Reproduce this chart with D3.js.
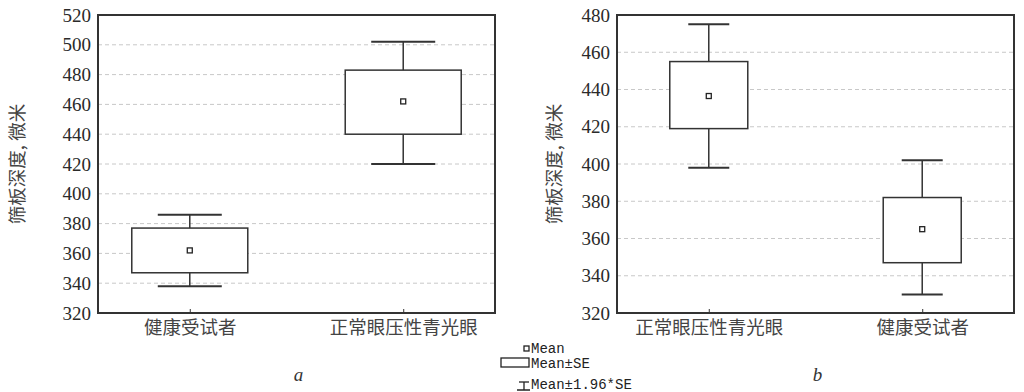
<!DOCTYPE html>
<html>
<head>
<meta charset="utf-8">
<script src="https://cdn.jsdelivr.net/npm/d3@7"></script>
<style>
  body { margin: 0; background: #fff; }
  svg { display: block; }
</style>
</head>
<body>
<script>
// panel a data
var catsA   = ["健康受试者", "正常眼压性青光眼"];
var meanA   = [362, 462];
var seLoA   = [347, 440];
var seHiA   = [377, 483];
var ciLoA   = [338, 420];
var ciHiA   = [386, 502];
var ticksA  = [320, 340, 360, 380, 400, 420, 440, 460, 480, 500, 520];

// panel b data
var catsB   = ["正常眼压性青光眼", "健康受试者"];
var meanB   = [436.5, 365];
var seLoB   = [419, 347];
var seHiB   = [455, 382];
var ciLoB   = [398, 330];
var ciHiB   = [475, 402];
var ticksB  = [320, 340, 360, 380, 400, 420, 440, 460, 480];

var yTitle = "筛板深度, 微米";
var legendLabels = ["Mean", "Mean\u00b1SE", "Mean\u00b11.96*SE"];

var svg = d3.select("body").append("svg")
  .attr("width", 1024)
  .attr("height", 392);

var ink = "#333";
var serif = "'Liberation Serif', 'DejaVu Serif', serif";
var cjk = "'Noto Sans CJK SC', sans-serif";

function panel(opt) {
  var x = d3.scalePoint().domain(opt.cats).range([opt.left, opt.right]).padding(0.43);
  var y = d3.scaleLinear().domain(d3.extent(opt.ticks)).range([opt.bottom, opt.top]);
  var g = svg.append("g");

  // grid
  g.append("g").selectAll("line")
    .data(opt.ticks.slice(1, -1))
    .enter().append("line")
    .attr("x1", opt.left).attr("x2", opt.right)
    .attr("y1", function(d){ return y(d); })
    .attr("y2", function(d){ return y(d); })
    .attr("stroke", "#c8c8c8")
    .attr("stroke-width", 1)
    .attr("stroke-dasharray", "4,3");

  // y axis labels
  var ya = g.append("g")
    .attr("transform", "translate(" + opt.left + ",0)")
    .call(d3.axisLeft(y).tickValues(opt.ticks).tickSize(0).tickPadding(7));
  ya.select(".domain").remove();
  ya.selectAll("text")
    .style("font-family", serif)
    .style("font-size", "19px")
    .attr("fill", "#2a2a2a");

  // x axis
  var xa = g.append("g")
    .attr("transform", "translate(0," + opt.bottom + ")")
    .call(d3.axisBottom(x).tickSize(-4).tickPadding(10));
  xa.select(".domain").remove();
  xa.selectAll("line").attr("stroke", ink);
  xa.selectAll("text")
    .style("font-family", cjk)
    .style("font-size", "18.5px")
    .attr("fill", "#444")
    .attr("dy", "0.6em");

  // frame
  g.append("rect")
    .attr("x", opt.left).attr("y", opt.top)
    .attr("width", opt.right - opt.left)
    .attr("height", opt.bottom - opt.top)
    .attr("fill", "none")
    .attr("stroke", ink)
    .attr("stroke-width", 2);

  // y title
  g.append("text")
    .attr("transform", "translate(" + opt.titleX + "," + ((opt.top + opt.bottom) / 2) + ") rotate(-90)")
    .attr("text-anchor", "middle")
    .attr("dy", "0.35em")
    .style("font-family", cjk)
    .style("font-size", "18.5px")
    .attr("fill", "#444")
    .text(yTitle);

  var idx = d3.range(opt.cats.length);
  var boxes = g.append("g").selectAll("g")
    .data(idx).enter().append("g");

  boxes.append("line")
    .attr("x1", function(i){ return x(opt.cats[i]); })
    .attr("x2", function(i){ return x(opt.cats[i]); })
    .attr("y1", function(i){ return y(opt.ciHi[i]); })
    .attr("y2", function(i){ return y(opt.ciLo[i]); })
    .attr("stroke", ink).attr("stroke-width", 1.5);
  [opt.ciHi, opt.ciLo].forEach(function(arr){
    boxes.append("line")
      .attr("x1", function(i){ return x(opt.cats[i]) - opt.capW / 2; })
      .attr("x2", function(i){ return x(opt.cats[i]) + opt.capW / 2; })
      .attr("y1", function(i){ return y(arr[i]); })
      .attr("y2", function(i){ return y(arr[i]); })
      .attr("stroke", ink).attr("stroke-width", 2);
  });
  boxes.append("rect")
    .attr("x", function(i){ return x(opt.cats[i]) - opt.boxW / 2; })
    .attr("y", function(i){ return y(opt.seHi[i]); })
    .attr("width", opt.boxW)
    .attr("height", function(i){ return y(opt.seLo[i]) - y(opt.seHi[i]); })
    .attr("fill", "#fff")
    .attr("stroke", ink).attr("stroke-width", 1.5);
  boxes.append("rect")
    .attr("x", function(i){ return x(opt.cats[i]) - 2.5; })
    .attr("y", function(i){ return y(opt.mean[i]) - 2.5; })
    .attr("width", 5).attr("height", 5)
    .attr("fill", "#fff")
    .attr("stroke", "#222").attr("stroke-width", 1.3);

  // panel letter
  g.append("text")
    .attr("x", (opt.left + opt.right) / 2 + 2)
    .attr("y", 381)
    .attr("text-anchor", "middle")
    .style("font-family", serif)
    .style("font-style", "italic")
    .style("font-size", "19px")
    .attr("fill", "#333")
    .text(opt.letter);
}

panel({cats: catsA, mean: meanA, seLo: seLoA, seHi: seHiA, ciLo: ciLoA, ciHi: ciHiA, ticks: ticksA,
       left: 98, right: 495, top: 15, bottom: 313, boxW: 116, capW: 64, titleX: 18, letter: "a"});
panel({cats: catsB, mean: meanB, seLo: seLoB, seHi: seHiB, ciLo: ciLoB, ciHi: ciHiB, ticks: ticksB,
       left: 617, right: 1014, top: 15, bottom: 313, boxW: 78, capW: 41, titleX: 555, letter: "b"});

// legend
var mono = "'Liberation Mono', 'DejaVu Sans Mono', monospace";
var leg = svg.append("g");
leg.append("rect").attr("x", 524).attr("y", 346).attr("width", 5).attr("height", 5)
  .attr("fill", "#fff").attr("stroke", "#222").attr("stroke-width", 1.3);
leg.append("rect").attr("x", 501).attr("y", 358).attr("width", 28).attr("height", 9)
  .attr("fill", "#fff").attr("stroke", "#222").attr("stroke-width", 1.3);
leg.append("line").attr("x1", 519).attr("x2", 529).attr("y1", 382).attr("y2", 382).attr("stroke", "#222").attr("stroke-width", 1.3);
leg.append("line").attr("x1", 517).attr("x2", 530).attr("y1", 390).attr("y2", 390).attr("stroke", "#222").attr("stroke-width", 1.5);
leg.append("line").attr("x1", 524).attr("x2", 524).attr("y1", 382).attr("y2", 390).attr("stroke", "#222").attr("stroke-width", 1.3);
leg.selectAll("text").data(legendLabels).enter().append("text")
  .attr("x", 531)
  .attr("y", function(d, i){ return [353, 368, 389][i]; })
  .style("font-family", mono)
  .style("font-size", "14px")
  .attr("fill", "#222")
  .text(function(d){ return d; });
</script>
</body>
</html>
